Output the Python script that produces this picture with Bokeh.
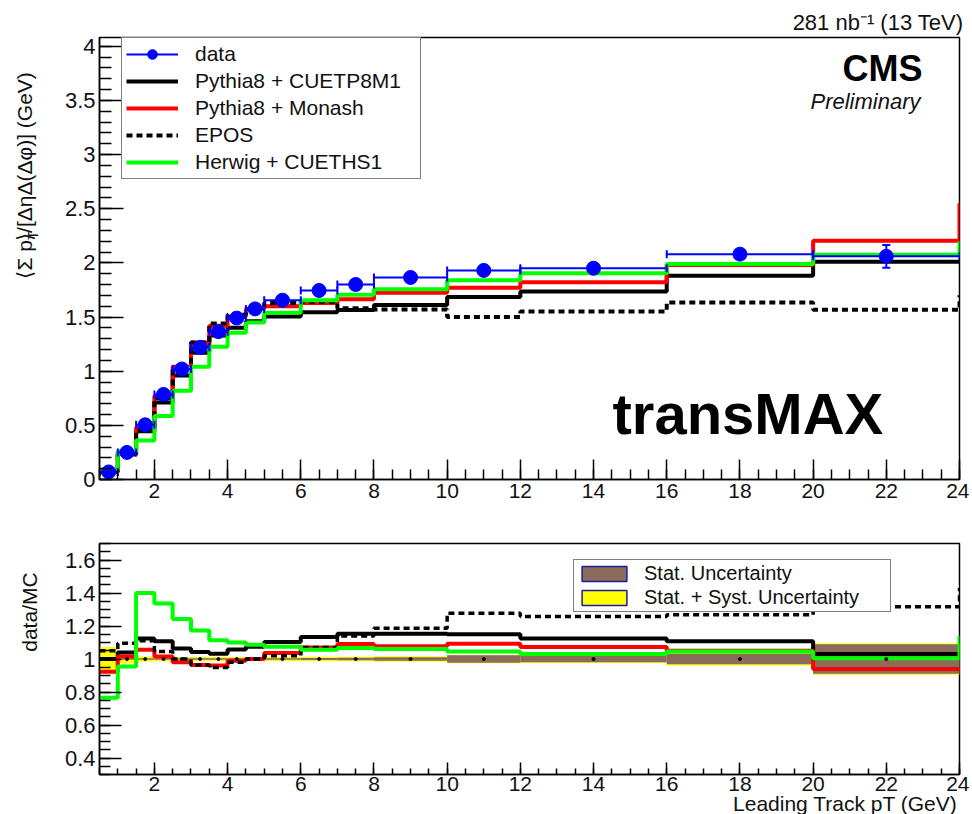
import numpy as np
from bokeh.plotting import figure
from bokeh.layouts import column, row
from bokeh.models import (Range1d, FixedTicker, NumeralTickFormatter, ColumnDataSource,
                          Legend, LegendItem, Label, Title)
from bokeh.core.properties import value
from bokeh.embed import file_html
from bokeh.resources import INLINE

# ---------------- data ----------------
bin_edges = [0.5, 1, 1.5, 2, 2.5, 3, 3.5, 4, 4.5, 5, 6, 7, 8, 10, 12, 16, 20, 24]

data_vals = [0.07, 0.25, 0.505, 0.785, 1.02, 1.22, 1.365, 1.49, 1.575, 1.655, 1.745, 1.80,
             1.865, 1.93, 1.95, 2.08, 2.06]
data_errs = [0.004, 0.005, 0.006, 0.008, 0.009, 0.01, 0.01, 0.01, 0.01, 0.01, 0.01, 0.01,
             0.012, 0.012, 0.015, 0.03, 0.105]

pythia_cuetp8m1 = [0.07, 0.24, 0.445, 0.71, 0.96, 1.17, 1.33, 1.40, 1.46, 1.505, 1.545, 1.565,
                   1.61, 1.685, 1.735, 1.88, 2.01]
pythia_monash = [0.076, 0.245, 0.478, 0.773, 1.04, 1.265, 1.42, 1.505, 1.575, 1.60, 1.63, 1.665,
                 1.725, 1.77, 1.82, 1.98, 2.205]
epos = [0.067, 0.23, 0.455, 0.75, 1.02, 1.265, 1.44, 1.52, 1.575, 1.63, 1.64, 1.58,
        1.57, 1.50, 1.55, 1.635, 1.567]
herwig = [0.09, 0.26, 0.36, 0.587, 0.82, 1.04, 1.225, 1.354, 1.449, 1.54, 1.655, 1.705,
          1.757, 1.84, 1.905, 1.99, 2.074]
# value of the next (overflow) bin, seen as the vertical edge at pT = 24
overflow_cuetp8m1 = 2.01
overflow_monash = 2.55
overflow_epos = 1.70
overflow_herwig = 2.20

ratio_cuetp8m1 = [1.0, 1.04, 1.124, 1.108, 1.063, 1.042, 1.032, 1.058, 1.075, 1.103, 1.134, 1.153,
                  1.153, 1.15, 1.124, 1.108, 1.03]
ratio_monash = [0.923, 1.015, 1.056, 1.015, 0.98, 0.964, 0.96, 0.99, 1.0, 1.036, 1.07, 1.091,
                1.077, 1.093, 1.073, 1.05, 0.94]
ratio_epos = [1.05, 1.095, 1.11, 1.046, 1.0, 0.964, 0.948, 0.98, 1.0, 1.02, 1.07, 1.14,
              1.186, 1.278, 1.257, 1.268, 1.317]
ratio_herwig = [0.765, 0.954, 1.40, 1.337, 1.243, 1.173, 1.114, 1.10, 1.087, 1.075, 1.056, 1.067,
                1.06, 1.046, 1.03, 1.046, 1.005]
ratio_overflow_cuetp8m1 = 1.03
ratio_overflow_monash = 0.94
ratio_overflow_epos = 1.43
ratio_overflow_herwig = 1.14

stat_unc = [0.008, 0.004, 0.004, 0.004, 0.004, 0.004, 0.004, 0.004, 0.005, 0.005, 0.006, 0.007,
            0.01, 0.022, 0.02, 0.032, 0.09]
total_unc = [0.072, 0.025, 0.015, 0.013, 0.012, 0.012, 0.012, 0.012, 0.012, 0.012, 0.013, 0.014,
             0.017, 0.025, 0.024, 0.04, 0.095]

x_major_ticks = [2, 4, 6, 8, 10, 12, 14, 16, 18, 20, 22, 24]
top_y_ticks = [0, 0.5, 1, 1.5, 2, 2.5, 3, 3.5, 4]
ratio_y_ticks = [0.4, 0.6, 0.8, 1.0, 1.2, 1.4, 1.6]

# ---------------- helpers ----------------
FONT = "Liberation Sans"
lefts = bin_edges[:-1]
rights = bin_edges[1:]
centers = [(a + b) / 2 for a, b in zip(lefts, rights)]

TXT_W = 45                 # strip holding the rotated y titles
FRAME_W = 860
X0, X1 = 0.5, 24
LEFT_B, RIGHT_B = 99 - TXT_W, 10
TOP_FIG_H, BOT_FIG_H = 510, 304


def make_fig(y0, y1, height, b_top, b_bot):
    p = figure(width=LEFT_B + FRAME_W + RIGHT_B, height=height,
               x_range=Range1d(X0, X1), y_range=Range1d(y0, y1),
               output_backend="svg", toolbar_location=None,
               min_border_left=LEFT_B, min_border_right=RIGHT_B,
               min_border_top=b_top, min_border_bottom=b_bot)
    p.xgrid.visible = False
    p.ygrid.visible = False
    p.outline_line_color = "black"
    p.outline_line_width = 1.5
    p.outline_line_alpha = 1.0
    p.background_fill_color = "white"
    p.border_fill_color = "white"
    for ax in p.axis:
        ax.axis_line_color = "black"
        ax.axis_line_width = 1.5
        ax.major_tick_line_color = "black"
        ax.minor_tick_line_color = "black"
        ax.major_tick_line_width = 1.5
        ax.minor_tick_line_width = 1.5
        ax.major_tick_out = 0
        ax.minor_tick_out = 0
        ax.major_label_text_font = FONT
        ax.major_label_text_color = "#111111"
        ax.major_label_standoff = 4
        ax.axis_label = None
    p.xaxis.ticker = FixedTicker(ticks=x_major_ticks,
                                 minor_ticks=list(np.arange(0.5, 24.01, 0.5)))
    p.xaxis.formatter = NumeralTickFormatter(format="0")
    return p


def text_strip(height):
    # a blank figure whose frame is the whole strip; coordinates = strip pixels (y down)
    t = figure(width=TXT_W, height=height, x_range=Range1d(0, TXT_W),
               y_range=Range1d(height, 0), output_backend="svg", toolbar_location=None,
               x_axis_type=None, y_axis_type=None,
               min_border_left=0, min_border_right=0, min_border_top=0, min_border_bottom=0)
    t.outline_line_color = None
    t.background_fill_color = "white"
    t.border_fill_color = "white"
    t.xgrid.visible = False
    t.ygrid.visible = False
    return t


def rot_text(t, x, y, txt, size, align="right"):
    t.text(x=[x], y=[y], text=[txt], angle=np.pi / 2, text_align=align,
           text_baseline="middle", text_font=value(FONT), text_font_size=value(size),
           text_color="#111111")


def step_xy(vals, overflow):
    return list(bin_edges), list(vals) + [overflow]


# ---------------- top panel ----------------
TOP_H = 442
top = make_fig(0, 4.08, TOP_FIG_H, 37, 31)
top.yaxis.ticker = FixedTicker(ticks=top_y_ticks, minor_ticks=list(np.arange(0, 4.08, 0.1)))
top.yaxis.formatter = NumeralTickFormatter(format="0.[0]")
top.yaxis.major_tick_in = 24
top.yaxis.minor_tick_in = 12
top.xaxis.major_tick_in = 20
top.xaxis.minor_tick_in = 10
top.yaxis.major_label_text_font_size = "22px"
top.xaxis.major_label_text_font_size = "21px"

xs, ys = step_xy(pythia_cuetp8m1, overflow_cuetp8m1)
r_black = top.step(xs, ys, mode="after", line_color="black", line_width=4)
xs, ys = step_xy(pythia_monash, overflow_monash)
r_red = top.step(xs, ys, mode="after", line_color="#ff0000", line_width=4)
xs, ys = step_xy(epos, overflow_epos)
r_epos = top.step(xs, ys, mode="after", line_color="black", line_width=4, line_dash="6 4")
xs, ys = step_xy(herwig, overflow_herwig)
r_green = top.step(xs, ys, mode="after", line_color="#00ff00", line_width=4)

dsrc = ColumnDataSource(dict(
    left=lefts, right=rights, x=centers, y=data_vals,
    lo=[v - e for v, e in zip(data_vals, data_errs)],
    hi=[v + e for v, e in zip(data_vals, data_errs)],
))
r_hbar = top.segment(x0="left", y0="y", x1="right", y1="y", source=dsrc,
                     line_color="#0000ff", line_width=2)
top.segment(x0="x", y0="lo", x1="x", y1="hi", source=dsrc, line_color="#0000ff", line_width=2)
top.scatter(x="left", y="y", source=dsrc, marker="dash", angle=np.pi / 2, size=8,
            line_color="#0000ff", line_width=2)
top.scatter(x="right", y="y", source=dsrc, marker="dash", angle=np.pi / 2, size=8,
            line_color="#0000ff", line_width=2)
top.scatter(x="x", y="lo", source=dsrc, marker="dash", size=8, line_color="#0000ff", line_width=2)
top.scatter(x="x", y="hi", source=dsrc, marker="dash", size=8, line_color="#0000ff", line_width=2)
r_pts = top.scatter(x="x", y="y", source=dsrc, marker="circle", size=14,
                    fill_color="#0000ff", line_color="#0000ff")

leg1 = Legend(items=[
    LegendItem(label="data", renderers=[r_hbar, r_pts]),
    LegendItem(label="Pythia8 + CUETP8M1", renderers=[r_black]),
    LegendItem(label="Pythia8 + Monash", renderers=[r_red]),
    LegendItem(label="EPOS", renderers=[r_epos]),
    LegendItem(label="Herwig + CUETHS1", renderers=[r_green]),
], location=(22, 300))
leg1.label_text_font = FONT
leg1.label_text_font_size = "21px"
leg1.label_text_color = "#111111"
leg1.glyph_width = 52
leg1.glyph_height = 24
leg1.label_height = 24
leg1.label_width = 221
leg1.spacing = 3
leg1.padding = 4
leg1.label_standoff = 17
leg1.margin = 0
leg1.border_line_color = "black"
leg1.border_line_width = 1.5
leg1.background_fill_color = "white"
leg1.background_fill_alpha = 1.0
top.add_layout(leg1)


def top_y(px):   # page pixel -> data value (top panel)
    return 4.08 - (px - 37) / (TOP_H / 4.08)


def xd(px):
    return X0 + (px - 99) / (FRAME_W / (X1 - X0))


top.add_layout(Label(x=xd(922), y=top_y(68), text="CMS", text_font=FONT,
                     text_font_size="36px", text_font_style="bold", text_align="right",
                     text_baseline="middle", text_color="black"))
top.add_layout(Label(x=xd(920), y=top_y(101), text="Preliminary", text_font=FONT,
                     text_font_size="22px", text_font_style="italic", text_align="right",
                     text_baseline="middle", text_color="#111111"))
top.add_layout(Label(x=xd(612), y=top_y(413), text="transMAX", text_font=FONT,
                     text_font_size="58px", text_font_style="bold", text_align="left",
                     text_baseline="middle", text_color="black"))

top.add_layout(Title(text="281 nb\u207b\u00b9 (13 TeV)", align="right", offset=-4, standoff=6,
                     text_font=FONT, text_font_size="22px", text_font_style="normal",
                     text_color="#111111"), "above")

# rotated y title of the top panel:  <Σ p_T>/[ΔηΔ(Δφ)] (GeV)
ts_top = text_strip(TOP_FIG_H)
YT = 21
part_a = "\u27e8\u03a3 p"
part_c = "\u27e9/[\u0394\u03b7\u0394(\u0394\u03c6)] (GeV)"
c_end = 40                     # top end of the title (strip pixels)
t_end = c_end + 8.7 * YT       # where "T" ends (just below part C)
a_end = t_end + 11             # where part A ends
rot_text(ts_top, 24, c_end, part_c, f"{YT}px")
rot_text(ts_top, 32, t_end, "T", "15px")
rot_text(ts_top, 24, a_end, part_a, f"{YT}px")

# ---------------- ratio panel ----------------
RY0, RY1 = 0.3, 1.7
bot = make_fig(RY0, RY1, BOT_FIG_H, 33, 40)
bot.yaxis.ticker = FixedTicker(ticks=ratio_y_ticks, minor_ticks=list(np.arange(0.3, 1.701, 0.05)))
bot.yaxis.formatter = NumeralTickFormatter(format="0.[0]")
bot.yaxis.major_tick_in = 22
bot.yaxis.minor_tick_in = 11
bot.xaxis.major_tick_in = 12
bot.xaxis.minor_tick_in = 6
bot.yaxis.major_label_text_font_size = "22px"
bot.xaxis.major_label_text_font_size = "21px"
bot.xaxis.major_label_standoff = 2

bsrc = ColumnDataSource(dict(
    left=lefts, right=rights,
    tlo=[1 - u for u in total_unc], thi=[1 + u for u in total_unc],
    slo=[1 - u for u in stat_unc], shi=[1 + u for u in stat_unc],
    x=centers, one=[1.0] * len(centers),
))
bot.quad(left="left", right="right", bottom="tlo", top="thi", source=bsrc,
         fill_color="#ffff00", line_color=None)
bot.quad(left="left", right="right", bottom="slo", top="shi", source=bsrc,
         fill_color="#8b6b5a", line_color=None)
# renderers used only for the legend swatches (with the blue frame)
r_stat_leg = bot.quad(left="left", right="right", bottom="slo", top="shi", source=bsrc,
                      fill_color="#8b6b5a", line_color="#1a1aa0", line_width=1.5, visible=False)
r_tot_leg = bot.quad(left="left", right="right", bottom="tlo", top="thi", source=bsrc,
                     fill_color="#ffff00", line_color="#1a1aa0", line_width=1.5, visible=False)

xs, ys = step_xy(ratio_cuetp8m1, ratio_overflow_cuetp8m1)
bot.step(xs, ys, mode="after", line_color="black", line_width=4)
xs, ys = step_xy(ratio_monash, ratio_overflow_monash)
bot.step(xs, ys, mode="after", line_color="#ff0000", line_width=4)
xs, ys = step_xy(ratio_epos, ratio_overflow_epos)
bot.step(xs, ys, mode="after", line_color="black", line_width=3.5, line_dash="6 4")
xs, ys = step_xy(ratio_herwig, ratio_overflow_herwig)
bot.step(xs, ys, mode="after", line_color="#00ff00", line_width=4)
bot.scatter(x="x", y="one", source=bsrc, marker="circle", size=3, fill_color="black",
            line_color="black")

leg2 = Legend(items=[
    LegendItem(label="Stat. Uncertainty", renderers=[r_stat_leg]),
    LegendItem(label="Stat. + Syst. Uncertainty", renderers=[r_tot_leg]),
], location=(474, 162))
leg2.label_text_font = FONT
leg2.label_text_font_size = "20px"
leg2.label_text_color = "#111111"
leg2.glyph_width = 56
leg2.glyph_height = 19
leg2.label_height = 20
leg2.label_width = 244
leg2.spacing = 1
leg2.padding = 2
leg2.label_standoff = 12
leg2.margin = 0
leg2.border_line_color = "black"
leg2.border_line_width = 1.5
leg2.background_fill_color = "white"
leg2.background_fill_alpha = 1.0
leg2.inactive_fill_alpha = 0.0
leg2.click_policy = "none"
bot.add_layout(leg2)

bot.add_layout(Title(text="Leading Track pT (GeV)", align="right", offset=2, standoff=-8,
                     text_font=FONT, text_font_size="21px", text_font_style="normal",
                     text_color="#111111"), "below")

ts_bot = text_strip(BOT_FIG_H)
rot_text(ts_bot, 29, 548 - TOP_FIG_H, "data/MC", "21px")

layout = column(row(ts_top, top, spacing=0), row(ts_bot, bot, spacing=0), spacing=0)
open("out.html", "w").write(file_html(layout, INLINE))
